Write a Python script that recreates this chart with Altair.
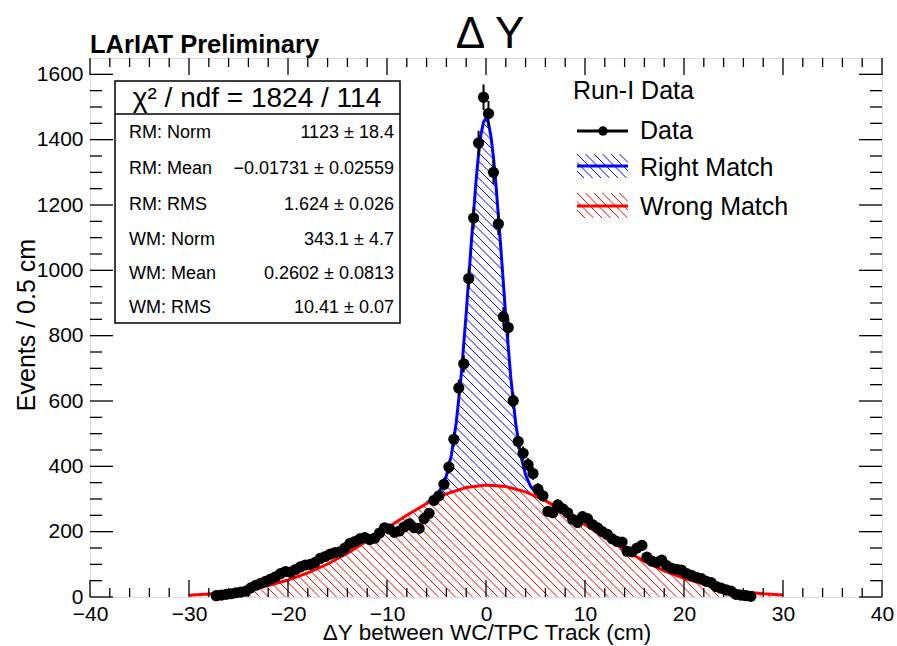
import altair as alt
import numpy as np
import pandas as pd

FONT = "Liberation Sans"

# ---------------- data ----------------
bin_width = 0.5
first_center = -27.25
counts_left = [4, 6, 8, 10, 13, 15, 18, 28, 36, 42, 48, 55, 62, 72, 78, 76, 84, 92, 98, 100,
               106, 118, 124, 131, 136, 138, 150, 164, 170, 178, 182, 176, 180, 196, 212, 208,
               198, 202, 215, 224, 212, 210, 240, 256, 296, 310, 345, 398, 483, 640, 714, 975,
               1160, 1390, 1530]
counts_right = [1480, 1300, 1142, 858, 825, 601, 476, 440, 405, 378, 330, 310, 262, 258, 282,
                270, 258, 238, 228, 246, 240, 222, 212, 200, 192, 178, 170, 168, 140, 138, 150,
                158, 122, 110, 106, 113, 96, 88, 85, 82, 72, 66, 60, 56, 48, 44, 32, 27, 22, 18,
                8, 6, 4, 2]
counts = counts_left + counts_right
centers = first_center + bin_width * np.arange(len(counts))

# Wrong-match fit curve (red)
red_x = [-30, -28, -26, -24, -22, -20, -18, -16, -14, -12, -10, -8, -6, -4, -2, 0,
         2, 4, 6, 8, 10, 12, 14, 16, 18, 20, 22, 24, 26, 28, 30]
red_y = [5, 9, 14, 23, 35, 52, 74, 101, 134, 172, 211, 250, 286, 316, 335, 343,
         338, 322, 295, 260, 221, 182, 144, 109, 80, 57, 39, 26, 16, 10, 6]
# Total fit curve (blue) in the peak region
blue_x = [-6, -5.5, -5, -4.5, -4, -3.5, -3, -2.5, -2, -1.5, -1, -0.75, -0.5, -0.25, 0,
          0.25, 0.5, 0.75, 1, 1.5, 2, 2.5, 3, 3.5, 4, 4.5, 5, 5.5, 6]
blue_y = [288, 298, 312, 334, 371, 434, 535, 680, 868, 1078, 1276, 1356, 1417, 1454, 1466,
          1451, 1410, 1347, 1265, 1067, 857, 673, 531, 434, 374, 339, 319, 306, 296]

x_major = [-40, -30, -20, -10, 0, 10, 20, 30, 40]
x_minor = [v for v in range(-38, 40, 2) if v % 10 != 0]
y_major = [0, 200, 400, 600, 800, 1000, 1200, 1400, 1600]
y_minor = [v for v in range(50, 1650, 50) if v % 200 != 0]

stat_labels = ["RM: Norm", "RM: Mean", "RM: RMS", "WM: Norm", "WM: Mean", "WM: RMS"]
stat_values = ["1123 \u00b1 18.4", "\u22120.01731 \u00b1 0.02559", "1.624 \u00b1 0.026",
               "343.1 \u00b1 4.7", "0.2602 \u00b1 0.0813", "10.41 \u00b1 0.07"]
legend_labels = ["Data", "Right Match", "Wrong Match"]

RED = "#ff0000"
BLUE = "#0000ff"

# ---------------- layout ----------------
W, H = 792, 539
XMIN, XMAX, YMIN, YMAX = -40, 40, 0, 1650
SX = W / (XMAX - XMIN)
SY = H / (YMAX - YMIN)

xs = alt.Scale(domain=[XMIN, XMAX], nice=False, zero=False)
ys = alt.Scale(domain=[YMIN, YMAX], nice=False, zero=False)
xaxis = alt.Axis(values=x_major, format="d", ticks=False, tickSize=0, domain=False, grid=False,
                 labelFont=FONT, labelFontSize=21, labelColor="black", labelPadding=6,
                 labelFlush=False, labelOverlap=False, title=None)
yaxis = alt.Axis(values=y_major, format="d", ticks=False, tickSize=0, domain=False, grid=False,
                 labelFont=FONT, labelFontSize=21, labelColor="black", labelPadding=7,
                 labelFlush=False, labelOverlap=False, title=None)


def X(field):
    return alt.X(field, type="quantitative", scale=xs, axis=xaxis, title=None)


def Y(field):
    return alt.Y(field, type="quantitative", scale=ys, axis=yaxis, title=None)


# ---------------- hatching (derived from the curve arrays) ----------------
def hatch_segments(x0, x1, lower_fn, upper_fn, spacing=8.5):
    gx = np.arange(x0, x1 + 1e-9, 0.25 / SX)
    Xp = (gx - XMIN) * SX
    lo = lower_fn(gx) * SY
    up = upper_fn(gx) * SY
    rows = []
    kmin = int(np.floor(Xp[0] / spacing))
    kmax = int(np.ceil((Xp[-1] + up.max()) / spacing))
    for k in range(kmin, kmax + 1):
        c = k * spacing
        Yl = c - Xp
        inside = (Yl >= lo) & (Yl <= up)
        if not inside.any():
            continue
        d = np.diff(np.concatenate([[0], inside.astype(int), [0]]))
        starts = np.where(d == 1)[0]
        ends = np.where(d == -1)[0] - 1
        for s, e in zip(starts, ends):
            if e > s:
                rows.append({"hx": gx[s], "hy": Yl[s] / SY, "hx2": gx[e], "hy2": Yl[e] / SY})
    return pd.DataFrame(rows)


red_interp = lambda g: np.interp(g, red_x, red_y)
blue_interp = lambda g: np.interp(g, blue_x, blue_y)
red_hatch = hatch_segments(-30, 30, lambda g: np.zeros_like(g), red_interp)
blue_hatch = hatch_segments(-6, 6, red_interp, blue_interp)

# ---------------- layers ----------------
df = pd.DataFrame({"x": centers, "n": counts})
df["lo"] = df["n"] - np.sqrt(df["n"])
df["hi"] = df["n"] + np.sqrt(df["n"])

red_hatch_layer = alt.Chart(red_hatch).mark_rule(stroke=RED, color=RED, strokeWidth=1, opacity=1).encode(
    x=X("hx"), y=Y("hy"), x2="hx2", y2="hy2", stroke=alt.value(RED))
blue_hatch_layer = alt.Chart(blue_hatch).mark_rule(stroke=BLUE, color=BLUE, strokeWidth=1, opacity=1).encode(
    x=X("hx"), y=Y("hy"), x2="hx2", y2="hy2", stroke=alt.value(BLUE))

blue_line = alt.Chart(pd.DataFrame({"x": blue_x, "y": blue_y})).mark_line(
    color=BLUE, strokeWidth=3).encode(x=X("x"), y=Y("y"))
red_line = alt.Chart(pd.DataFrame({"x": red_x, "y": red_y})).mark_line(
    color=RED, strokeWidth=3).encode(x=X("x"), y=Y("y"))

errbars = alt.Chart(df).mark_rule(color="black", strokeWidth=2).encode(
    x=X("x"), y=Y("lo"), y2="hi")
points = alt.Chart(df).mark_circle(color="black", size=125, opacity=1).encode(
    x=X("x"), y=Y("n"))

# ticks (inside, on all four sides)
def xticks(vals, length):
    d = pd.DataFrame({"v": vals})
    bottom = alt.Chart(d).mark_rule(color="black", strokeWidth=1.3).encode(
        x=X("v"), y=alt.value(H), y2=alt.value(H - length))
    top = alt.Chart(d).mark_rule(color="black", strokeWidth=1.3).encode(
        x=X("v"), y=alt.value(0), y2=alt.value(length))
    return [bottom, top]


def yticks(vals, length):
    d = pd.DataFrame({"v": vals})
    left = alt.Chart(d).mark_rule(color="black", strokeWidth=1.3).encode(
        y=Y("v"), x=alt.value(0), x2=alt.value(length))
    right = alt.Chart(d).mark_rule(color="black", strokeWidth=1.3).encode(
        y=Y("v"), x=alt.value(W), x2=alt.value(W - length))
    return [left, right]


tick_layers = xticks(x_major, 17) + xticks(x_minor, 9) + yticks(y_major, 23) + yticks(y_minor, 12)

# ---------------- annotations (pixel positions inside the plot frame) ----------------
def px(field):
    return alt.X(field, type="quantitative", scale=None, axis=None)


def py(field):
    return alt.Y(field, type="quantitative", scale=None, axis=None)


def text_layer(rows, size, align="left", weight="normal", angle=0, baseline="alphabetic"):
    d = pd.DataFrame(rows, columns=["tx", "ty", "t"])
    return alt.Chart(d).mark_text(font=FONT, fontSize=size, align=align, baseline=baseline,
                                  fontWeight=weight, angle=angle, color="black").encode(
        x=px("tx"), y=py("ty"), text="t:N")


# stats box
box = alt.Chart(pd.DataFrame({"a": [0]})).mark_rect(
    fill="white", stroke="black", strokeWidth=1.5).encode(
    x=alt.value(25), x2=alt.value(310), y=alt.value(23), y2=alt.value(265))
box_sep = alt.Chart(pd.DataFrame({"a": [0]})).mark_rule(color="black", strokeWidth=1.5).encode(
    x=alt.value(25), x2=alt.value(310), y=alt.value(56))
row_base = [80, 116, 152, 186.5, 220.5, 255]
stats_head = text_layer([[167, 49, "\u03c7\u00b2 / ndf =  1824 / 114"]], 28, align="center")
stats_lab = text_layer([[39, b, s] for b, s in zip(row_base, stat_labels)], 18)
stats_val = text_layer([[304, b, s] for b, s in zip(row_base, stat_values)], 18, align="right")

# legend
leg_title = text_layer([[483, 41, "Run-I Data"]], 25)
leg_text = text_layer([[550, b, s] for b, s in zip([81, 118, 157], legend_labels)], 25)
leg_data_line = alt.Chart(pd.DataFrame({"a": [0]})).mark_rule(color="black", strokeWidth=3).encode(
    x=alt.value(487), x2=alt.value(538), y=alt.value(73))
leg_data_dot = alt.Chart(pd.DataFrame({"a": [0]})).mark_circle(color="black", size=90, opacity=1).encode(
    x=alt.value(513), y=alt.value(73))


def box_hatch(bx0, bx1, by0, by1, spacing=8.5):
    rows = []
    for b in np.arange(by0 - bx1, by1 - bx0, spacing):
        xa = max(bx0, by0 - b)
        xb = min(bx1, by1 - b)
        if xb > xa:
            rows.append({"ax": xa, "ay": xa + b, "ax2": xb, "ay2": xb + b})
    return pd.DataFrame(rows)


def legend_fill(color, by0, by1, yline):
    hd = box_hatch(487, 538, by0, by1)
    hatch = alt.Chart(hd).mark_rule(stroke=color, color=color, strokeWidth=1, opacity=1).encode(
        x=px("ax"), y=py("ay"), x2="ax2", y2="ay2", stroke=alt.value(color))
    line = alt.Chart(pd.DataFrame({"a": [0]})).mark_rule(color=color, strokeWidth=3).encode(
        x=alt.value(487), x2=alt.value(538), y=alt.value(yline))
    return [hatch, line]


leg_rm = legend_fill(BLUE, 96, 120, 108)
leg_wm = legend_fill(RED, 135, 160, 148)

# titles
main_title = text_layer([[400, -10, "\u0394 Y"]], 44, align="center")
prelim = text_layer([[0, -5, "LArIAT Preliminary"]], 25.5, weight="bold")
xtitle = text_layer([[397, 582, "\u0394Y between WC/TPC Track (cm)"]], 22.5, align="center")
ytitle = text_layer([[-63, 267, "Events / 0.5 cm"]], 25, align="center", angle=270, baseline="middle")

layers = ([red_hatch_layer, blue_hatch_layer, blue_line, red_line, errbars, points]
          + tick_layers
          + [box, box_sep, stats_head, stats_lab, stats_val,
             leg_title, leg_text, leg_data_line, leg_data_dot] + leg_rm + leg_wm
          + [main_title, prelim, xtitle, ytitle])

chart = alt.layer(*layers).properties(
    width=W, height=H,
    autosize=alt.AutoSizeParams(type="none"),
    padding={"left": 90, "top": 58, "right": 15, "bottom": 49},
).configure_view(stroke="black", strokeWidth=2).configure(background="white")

chart.save("out.html", embed_options={"renderer": "svg", "actions": False})
